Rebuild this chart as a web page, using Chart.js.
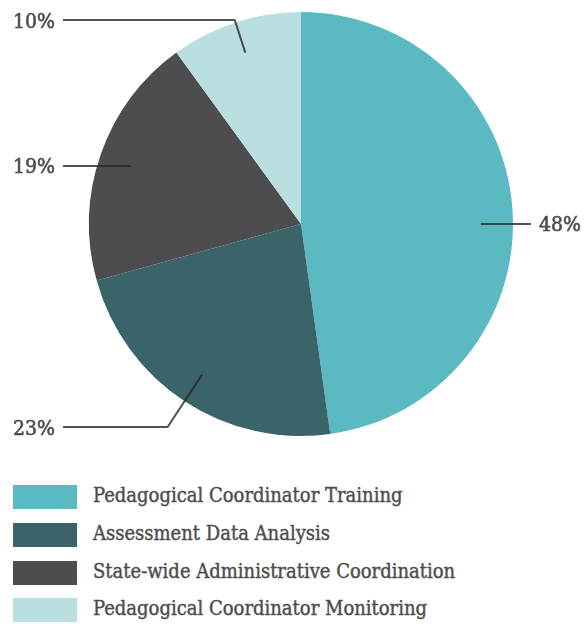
<!DOCTYPE html>
<html>
<head>
<meta charset="utf-8">
<script src="https://cdn.jsdelivr.net/npm/chart.js@4/dist/chart.umd.min.js"></script>
<style>
  html, body { margin: 0; padding: 0; background: #fff; overflow: hidden; }
  #wrap { position: relative; width: 585px; height: 624px; }
  #chart-box { position: absolute; left: 0; top: 0; width: 585px; height: 448px; }
  #legend { position: absolute; left: 13px; top: 485px; margin: 0; padding: 0; list-style: none; }
  #legend li { display: flex; align-items: center; height: 24px; margin-bottom: 13.8px; }
  #legend .sw { width: 64px; height: 24px; flex: none; }
  #legend .tx {
    margin-left: 16px; font-family: "DejaVu Serif Condensed", "DejaVu Serif", serif; font-size: 20px;
    color: #4d4d4d; -webkit-text-stroke: 0.4px #4d4d4d;
    white-space: nowrap; position: relative; top: -2px;
  }
</style>
</head>
<body>
<div id="wrap">
  <div id="chart-box"><canvas id="c"></canvas></div>
  <ul id="legend"></ul>
</div>
<script>
// data (labels show the rounded shares)
const categories = [
    'Pedagogical Coordinator Training',
    'Assessment Data Analysis',
    'State-wide Administrative Coordination',
    'Pedagogical Coordinator Monitoring',
];
const shares = [47.8, 22.9, 19.3, 10];
const colors = ['#5ab9c1', '#3b636a', '#4d4c4e', '#b9dfe0'];

// label layout: which side the % label sits on, and its height relative to
// the pie centre, in radii
const labelSide = ['right', 'left', 'left', 'left'];
const labelRow  = [0, 0.958, -0.274, -0.962];

const LABEL_FONT = '21px "DejaVu Serif Condensed", "DejaVu Serif", serif';
const LABEL_COLOR = '#4d4d4d';
const LEADER_COLOR = 'rgba(40, 40, 40, 0.8)';

/** Leader lines + percentage labels, anchored on each arc's mid angle. */
const leaderLabels = {
    id: 'leaderLabels',
    afterDatasetsDraw(chart) {
        const ctx = chart.ctx;
        const meta = chart.getDatasetMeta(0);
        ctx.save();
        ctx.font = LABEL_FONT;
        ctx.textBaseline = 'middle';
        meta.data.forEach((arc, i) => {
            const { x: cx, y: cy, outerRadius: r, startAngle, endAngle } = arc.getProps(
                ['x', 'y', 'outerRadius', 'startAngle', 'endAngle'], true);
            const mid = (startAngle + endAngle) / 2;
            const dx = Math.cos(mid), dy = Math.sin(mid);
            const ix = cx + dx * r * 0.85, iy = cy + dy * r * 0.85;
            const ly = cy + labelRow[i] * r;
            const text = Math.round(shares[i]) + '%';
            const tw = ctx.measureText(text).width;

            // run outward along the radius until we reach the label row
            const t = dy !== 0 ? (ly - iy) / dy : -1;
            let ex, ey, sx, sy;
            if (t > 0 && Math.abs(ly - iy) > 4) { ex = ix + dx * t; ey = ly; sx = ix; sy = iy; }
            else { ex = ix; ey = ly; sx = ix; sy = ly; }

            let tx, lx;
            if (labelSide[i] === 'left') { tx = 13; lx = tx + tw + 8; }
            else { tx = cx + r + 26; lx = tx - 8; }

            ctx.lineWidth = 2;
            ctx.strokeStyle = LEADER_COLOR;
            ctx.beginPath();
            ctx.moveTo(sx, sy);
            ctx.lineTo(ex, ey);
            ctx.lineTo(lx, ly);
            ctx.stroke();

            ctx.fillStyle = LABEL_COLOR;
            ctx.strokeStyle = LABEL_COLOR;
            ctx.lineWidth = 0.6;
            ctx.textAlign = 'left';
            ctx.fillText(text, tx, ly + 2);
            ctx.strokeText(text, tx, ly + 2);
        });
        ctx.restore();
    },
};

const chart = new Chart(document.getElementById('c'), {
    type: 'pie',
    data: {
        labels: categories,
        datasets: [{
            data: shares,
            backgroundColor: colors,
            borderWidth: 0,
            hoverOffset: 0,
        }],
    },
    options: {
        responsive: true,
        maintainAspectRatio: false,
        animation: false,
        events: [],
        layout: { padding: { top: 12, bottom: 12, left: 17, right: 0 } },
        plugins: {
            legend: { display: false },
            tooltip: { enabled: false },
        },
    },
    plugins: [leaderLabels],
});

// html legend, built from the chart's own data
const legend = document.getElementById('legend');
chart.data.labels.forEach((label, i) => {
    const li = document.createElement('li');
    li.innerHTML = `<span class="sw" style="background:${colors[i]}"></span><span class="tx">${label}</span>`;
    legend.appendChild(li);
});
</script>
</body>
</html>
